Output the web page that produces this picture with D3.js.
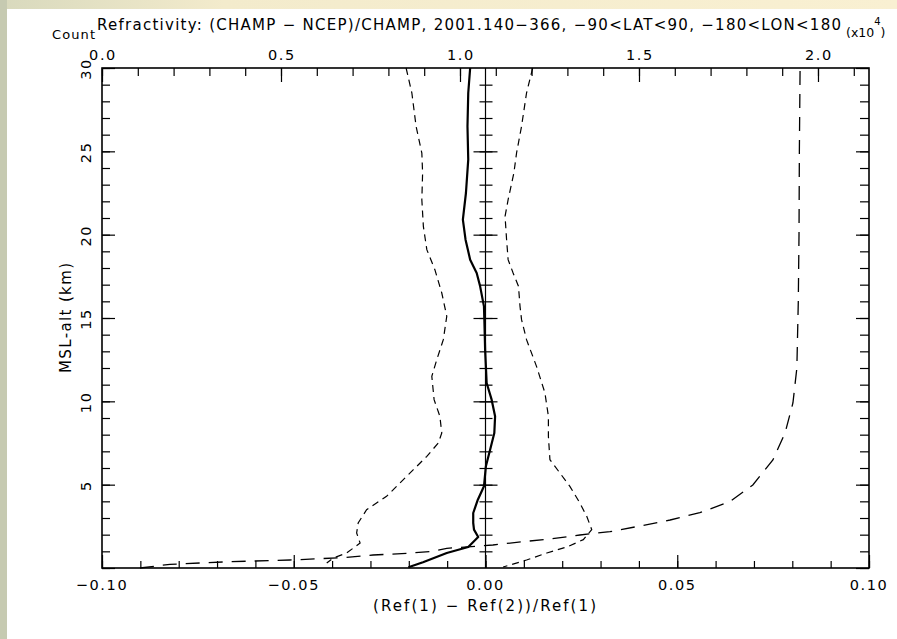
<!DOCTYPE html>
<html>
<head>
<meta charset="utf-8">
<script src="https://cdn.jsdelivr.net/npm/d3@7"></script>
<style>
  html, body { margin: 0; padding: 0; background: #ffffff; }
  svg { display: block; }
  text { font-family: "DejaVu Sans", "Liberation Sans", sans-serif; fill: #000; }
</style>
</head>
<body>
<svg id="chart" width="897" height="639"></svg>
<script>
// Mean fractional refractivity difference (CHAMP - NCEP)/CHAMP by altitude (km)
const altMean = [30, 28.5, 26.5, 24.5, 22.5, 20.9, 19.7, 18.5, 17.7, 16.9, 15.7, 14.9, 13.1, 11.1, 10.1, 9.1, 8.1, 7.1, 6.1, 4.9, 4.1, 3.3, 2.7, 2.3, 1.86, 1.26, 0.9, 0.35, 0.05];
const devMean = [-0.0040, -0.0045, -0.0047, -0.0045, -0.0051, -0.0059, -0.0052, -0.0040, -0.0023, -0.0014, -0.0004, -0.0003, -0.0001, 0.0003, 0.0016, 0.0025, 0.0023, 0.0012, 0.0001, -0.0004, -0.0020, -0.0032, -0.0032, -0.0030, -0.0019, -0.0045, -0.0101, -0.0163, -0.0201];

// Mean minus one standard deviation
const altLow = [30, 28.5, 26.5, 24.9, 23.7, 22.1, 20.5, 19.1, 17.9, 16.5, 15.1, 13.7, 12.5, 11.5, 10.1, 9.1, 8.1, 7.5, 6.7, 5.9, 5.1, 4.3, 3.5, 2.7, 2.1, 1.5, 0.9, 0.6, 0.3];
const devLow = [-0.0207, -0.0192, -0.0181, -0.0166, -0.0164, -0.0166, -0.0162, -0.0153, -0.0132, -0.0114, -0.0101, -0.0110, -0.0127, -0.0140, -0.0134, -0.0119, -0.0114, -0.0123, -0.0153, -0.0188, -0.0223, -0.0258, -0.0310, -0.0332, -0.0336, -0.0327, -0.0362, -0.0397, -0.0414];

// Mean plus one standard deviation
const altHigh = [30, 28.5, 26.5, 24.9, 23.7, 22.1, 21.1, 19.7, 18.5, 17.7, 16.9, 15.7, 14.9, 13.7, 12.1, 10.5, 9.1, 7.9, 6.5, 5.7, 4.9, 3.9, 3.1, 2.3, 1.7, 1.26, 0.9, 0.48, 0.06];
const devHigh = [0.0123, 0.0107, 0.0094, 0.0081, 0.0074, 0.0059, 0.0051, 0.0055, 0.0059, 0.0072, 0.0086, 0.0090, 0.0094, 0.0107, 0.0133, 0.0155, 0.0164, 0.0164, 0.0168, 0.0194, 0.0220, 0.0246, 0.0264, 0.0277, 0.0255, 0.0212, 0.0160, 0.0107, 0.0046];

// Number of profile pairs at each altitude (top axis, units of 10^4)
const altCount = [0.0, 0.22, 0.38, 0.48, 0.62, 0.78, 0.88, 1.0, 1.18, 1.38, 1.58, 1.74, 1.98, 2.18, 2.52, 2.88, 3.32, 3.98, 4.98, 6.48, 8.1, 9.9, 12.0, 16, 20, 25, 30];
const countVals = [1060, 1900, 3580, 5250, 6730, 7570, 8510, 9240, 9630, 10920, 11760, 12510, 13350, 14190, 15030, 15870, 16700, 17540, 18180, 18740, 19080, 19300, 19410, 19450, 19470, 19480, 19500];

// Tick labels
const bottomLabels = [-0.10, -0.05, 0.00, 0.05, 0.10];
const topLabels = [0, 5000, 10000, 15000, 20000];
const leftLabels = [5, 10, 15, 20, 25, 30];

const titleText = "Refractivity:  (CHAMP \u2212 NCEP)/CHAMP, 2001.140\u2212366, \u221290<LAT<90, \u2212180<LON<180";
const xTitle = "(Ref(1) \u2212 Ref(2))/Ref(1)";
const yTitle = "MSL-alt (km)";

(function () {
const svg = d3.select("#chart");
const W = 897, H = 639;
const pL = 102, pR = 869, pT = 68, pB = 568;

// Page background with coloured borders
const defs = svg.append("defs");
const g1 = defs.append("linearGradient").attr("id", "topBand").attr("x1", 0).attr("x2", 1);
g1.append("stop").attr("offset", 0).attr("stop-color", "#d8d9bd");
g1.append("stop").attr("offset", 0.25).attr("stop-color", "#f3ebcc");
g1.append("stop").attr("offset", 1).attr("stop-color", "#f9f0d2");
svg.append("rect").attr("width", W).attr("height", H).attr("fill", "#ffffff");
svg.append("rect").attr("x", 0).attr("y", 0).attr("width", W).attr("height", 9).attr("fill", "url(#topBand)");
svg.append("rect").attr("x", 0).attr("y", 0).attr("width", 7).attr("height", H).attr("fill", "#c6cab1");

// Scales
const x = d3.scaleLinear().domain([-0.1, 0.1]).range([pL, pR]);
const xc = d3.scaleLinear().domain([0, 21425]).range([pL, pR]);
const y = d3.scaleLinear().domain([0, 30]).range([pB, pT]);

function clean(g) {
  g.select(".domain").remove();
  g.selectAll("line").attr("stroke", "#000").attr("stroke-width", 1.2);
  g.selectAll("text").remove();
}

// Bottom axis (ticks point inward)
svg.append("g").attr("transform", `translate(0,${pB})`)
  .call(d3.axisBottom(x).tickValues(d3.range(-10, 11).map(d => d / 100)).tickSize(-7).tickSizeOuter(0))
  .call(clean);
svg.append("g").attr("transform", `translate(0,${pB})`)
  .call(d3.axisBottom(x).tickValues(bottomLabels).tickSize(-13).tickSizeOuter(0))
  .call(clean);

// Top count axis
svg.append("g").attr("transform", `translate(0,${pT})`)
  .call(d3.axisTop(xc).tickValues(d3.range(0, 22).map(d => d * 1000)).tickSize(-8).tickSizeOuter(0))
  .call(clean);
svg.append("g").attr("transform", `translate(0,${pT})`)
  .call(d3.axisTop(xc).tickValues(topLabels).tickSize(-14).tickSizeOuter(0))
  .call(clean);

// Left and right altitude axes
const kmTicks = d3.range(0, 31);
const kmMajor = d3.range(0, 31, 5);
svg.append("g").attr("transform", `translate(${pL},0)`)
  .call(d3.axisLeft(y).tickValues(kmTicks).tickSize(-8).tickSizeOuter(0)).call(clean);
svg.append("g").attr("transform", `translate(${pL},0)`)
  .call(d3.axisLeft(y).tickValues(kmMajor).tickSize(-13).tickSizeOuter(0)).call(clean);
svg.append("g").attr("transform", `translate(${pR},0)`)
  .call(d3.axisRight(y).tickValues(kmTicks).tickSize(-9).tickSizeOuter(0)).call(clean);
svg.append("g").attr("transform", `translate(${pR},0)`)
  .call(d3.axisRight(y).tickValues(kmMajor).tickSize(-13).tickSizeOuter(0)).call(clean);

// Zero line with ticks on both sides
const x0 = x(0);
svg.append("line").attr("x1", x0).attr("x2", x0).attr("y1", pT).attr("y2", pB)
  .attr("stroke", "#000").attr("stroke-width", 1.2);
const zeroTicks = d3.range(1, 30);
svg.append("g").attr("transform", `translate(${x0},0)`)
  .call(d3.axisLeft(y).tickValues(zeroTicks).tickSize(6).tickSizeOuter(0)).call(clean);
svg.append("g").attr("transform", `translate(${x0},0)`)
  .call(d3.axisRight(y).tickValues(zeroTicks).tickSize(7).tickSizeOuter(0)).call(clean);
svg.append("g").attr("transform", `translate(${x0},0)`)
  .call(d3.axisLeft(y).tickValues([5, 10, 15, 20, 25]).tickSize(12).tickSizeOuter(0)).call(clean);
svg.append("g").attr("transform", `translate(${x0},0)`)
  .call(d3.axisRight(y).tickValues([5, 10, 15, 20, 25]).tickSize(12).tickSizeOuter(0)).call(clean);

// Frame
svg.append("rect").attr("x", pL).attr("y", pT).attr("width", pR - pL).attr("height", pB - pT)
  .attr("fill", "none").attr("stroke", "#000").attr("stroke-width", 1.6);

// Tick labels
const fmtX = d => (d < 0 ? "\u2212" : "") + Math.abs(d).toFixed(2);
svg.append("g").selectAll("text").data(bottomLabels).join("text")
  .attr("x", d => x(d)).attr("y", 590).attr("text-anchor", "middle")
  .attr("font-size", 14.5).attr("letter-spacing", 1.6).text(fmtX);
svg.append("g").selectAll("text").data(topLabels).join("text")
  .attr("x", d => xc(d) + 1).attr("y", 60).attr("text-anchor", "middle")
  .attr("font-size", 14.5).attr("letter-spacing", 1.6).text(d => (d / 1e4).toFixed(1));
svg.append("g").selectAll("text").data(leftLabels).join("text")
  .attr("transform", d => `translate(91,${y(d) + 1}) rotate(-90)`).attr("text-anchor", "middle")
  .attr("font-size", 14.5).attr("letter-spacing", 1.6).text(d => d);

// Titles
svg.append("text").attr("x", 97).attr("y", 30).attr("font-size", 15)
  .attr("textLength", 744).attr("lengthAdjust", "spacing").text(titleText);
svg.append("text").attr("x", 52).attr("y", 39).attr("font-size", 13)
  .attr("textLength", 43).attr("lengthAdjust", "spacing").text("Count");
const sci = svg.append("text").attr("x", 846).attr("y", 37).attr("font-size", 12.5);
sci.append("tspan").text("(x10");
sci.append("tspan").attr("dy", -12).attr("font-size", 10).text("4");
sci.append("tspan").attr("dy", 12).text(")");
svg.append("text").attr("x", 373).attr("y", 611).attr("font-size", 15)
  .attr("textLength", 223).attr("lengthAdjust", "spacing").text(xTitle);
svg.append("text").attr("transform", `translate(71,${(pT + pB) / 2}) rotate(-90)`)
  .attr("text-anchor", "middle").attr("font-size", 15)
  .attr("textLength", 110).attr("lengthAdjust", "spacing").text(yTitle);

// Curves
const plot = svg.append("g");
const line = d3.line().x(d => d.x).y(d => d.y);
const toPts = (alts, vals, sx) => alts.map((a, i) => ({ x: sx(vals[i]), y: y(a) }));

plot.append("path").attr("d", line(toPts(altLow, devLow, x)))
  .attr("fill", "none").attr("stroke", "#000").attr("stroke-width", 1.2).attr("stroke-dasharray", "7,5");
plot.append("path").attr("d", line(toPts(altHigh, devHigh, x)))
  .attr("fill", "none").attr("stroke", "#000").attr("stroke-width", 1.2).attr("stroke-dasharray", "7,5");
plot.append("path").attr("d", line(toPts(altCount, countVals, xc)))
  .attr("fill", "none").attr("stroke", "#000").attr("stroke-width", 1.3).attr("stroke-dasharray", "14,9");
plot.append("path").attr("d", line(toPts(altMean, devMean, x)))
  .attr("fill", "none").attr("stroke", "#000").attr("stroke-width", 2.2).attr("stroke-linejoin", "round");
})();
</script>
</body>
</html>
